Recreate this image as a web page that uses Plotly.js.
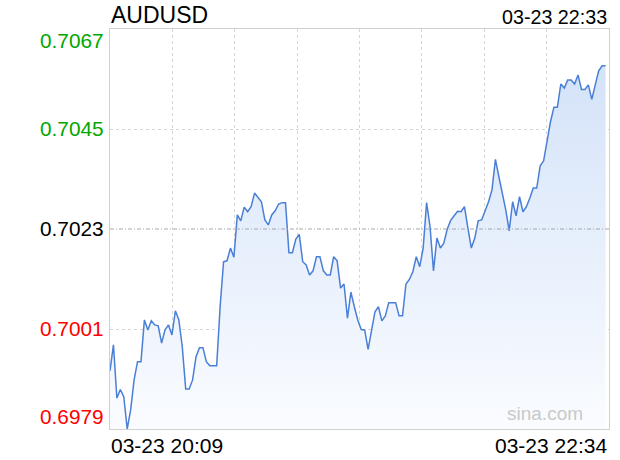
<!DOCTYPE html>
<html>
<head>
<meta charset="utf-8">
<script src="https://cdn.plot.ly/plotly-3.0.1.min.js"></script>
<style>
  html, body { margin: 0; padding: 0; background: #fff; }
  #chart { width: 620px; height: 460px; }
</style>
</head>
<body>
<div id="chart"></div>
<script>
// ---- data ----
const symbol = 'AUDUSD';
const headerTime = '03-23 22:33';
const tradeDate = '2018-03-23';
const startTime = '20:09';
const endTime = '22:34';
const axisStartLabel = '03-23 20:09';
const axisEndLabel = '03-23 22:34';
const watermark = 'sina.com';

// one price per minute, starting at 20:09
const prices = [
  0.69918, 0.69975, 0.69858, 0.69877, 0.69861, 0.69790, 0.69832, 0.69898, 0.69938, 0.69938,
  0.70030, 0.70008, 0.70028, 0.70019, 0.70017, 0.69979, 0.70008, 0.70019, 0.69997, 0.70050,
  0.70030, 0.69971, 0.69878, 0.69878, 0.69898, 0.69949, 0.69969, 0.69969, 0.69938, 0.69929,
  0.69929, 0.69929, 0.70059, 0.70158, 0.70160, 0.70188, 0.70168, 0.70261, 0.70248, 0.70278,
  0.70268, 0.70279, 0.70309, 0.70300, 0.70290, 0.70250, 0.70239, 0.70261, 0.70270, 0.70285,
  0.70288, 0.70288, 0.70178, 0.70178, 0.70208, 0.70218, 0.70158, 0.70151, 0.70129, 0.70138,
  0.70169, 0.70169, 0.70138, 0.70129, 0.70129, 0.70169, 0.70160, 0.70100, 0.70109, 0.70034,
  0.70091, 0.70059, 0.70030, 0.70009, 0.70008, 0.69965, 0.70008, 0.70048, 0.70059, 0.70028,
  0.70039, 0.70068, 0.70068, 0.70068, 0.70039, 0.70039, 0.70109, 0.70119, 0.70136, 0.70169,
  0.70147, 0.70188, 0.70288, 0.70235, 0.70138, 0.70210, 0.70188, 0.70199, 0.70230, 0.70249,
  0.70259, 0.70269, 0.70268, 0.70279, 0.70232, 0.70188, 0.70210, 0.70248, 0.70250, 0.70268,
  0.70290, 0.70316, 0.70383, 0.70345, 0.70310, 0.70272, 0.70226, 0.70290, 0.70259, 0.70301,
  0.70268, 0.70279, 0.70298, 0.70320, 0.70320, 0.70369, 0.70380, 0.70426, 0.70466, 0.70498,
  0.70498, 0.70549, 0.70540, 0.70558, 0.70558, 0.70549, 0.70569, 0.70537, 0.70537, 0.70547,
  0.70515, 0.70547, 0.70578, 0.70589, 0.70589
];

const yTicks = [0.6979, 0.7001, 0.7023, 0.7045, 0.7067];
const yTickText = ['0.6979', '0.7001', '0.7023', '0.7045', '0.7067'];
const prevClose = 0.7023;

// ---- build minute timestamps (categories) ----
function toMin(t) { const p = t.split(':'); return (+p[0]) * 60 + (+p[1]); }
function fmt(m) {
  const h = Math.floor(m / 60), mm = m % 60;
  return tradeDate + ' ' + String(h).padStart(2, '0') + ':' + String(mm).padStart(2, '0');
}
const t0 = toMin(startTime);
const times = prices.map((_, i) => fmt(t0 + i));
const xStart = fmt(t0);
const xEnd = fmt(toMin(endTime));
const gridStep = (toMin(endTime) - t0) / 8 * 60000;

const FONT = 'Liberation Sans, Arial, Helvetica, sans-serif';
const GREEN = '#00a800', RED = '#ff0000', BLACK = '#000000';

const trace = {
  x: times,
  y: prices,
  type: 'scatter',
  mode: 'lines',
  line: { color: '#4a7fd6', width: 1.5 },
  fill: 'tozeroy',
  fillgradient: {
    type: 'vertical',
    start: yTicks[0],
    stop: yTicks[yTicks.length - 1],
    colorscale: [[0, 'rgb(250,252,255)'], [1, 'rgb(208,224,248)']]
  },
  hoverinfo: 'skip'
};

const annotations = [];
yTicks.forEach((v, i) => {
  const color = v > prevClose ? GREEN : (v < prevClose ? RED : BLACK);
  let yanchor = 'middle';
  if (i === yTicks.length - 1) yanchor = 'top';
  if (i === 0) yanchor = 'bottom';
  annotations.push({
    xref: 'paper', yref: 'y', x: 0, y: v, xanchor: 'right', yanchor: yanchor,
    xshift: -4, yshift: (yanchor === 'middle' ? 1 : (yanchor === 'top' ? 2 : -1)),
    text: yTickText[i], showarrow: false,
    font: { family: FONT, size: 20.8, color: color }
  });
});
annotations.push({
  xref: 'paper', yref: 'paper', x: 0, y: 1.034, xanchor: 'left', yanchor: 'middle',
  xshift: -1, text: symbol, showarrow: false, font: { family: FONT, size: 23, color: '#000' }
});
annotations.push({
  xref: 'paper', yref: 'paper', x: 1, y: 1.03, xanchor: 'right', yanchor: 'middle',
  text: headerTime, showarrow: false, font: { family: FONT, size: 19.7, color: '#000' }
});
annotations.push({
  xref: 'paper', yref: 'paper', x: 0, y: -0.041, xanchor: 'left', yanchor: 'middle',
  xshift: -1, text: axisStartLabel, showarrow: false, font: { family: FONT, size: 21, color: '#000' }
});
annotations.push({
  xref: 'paper', yref: 'paper', x: 1, y: -0.041, xanchor: 'right', yanchor: 'middle',
  text: axisEndLabel, showarrow: false, font: { family: FONT, size: 21, color: '#000' }
});
annotations.push({
  xref: 'paper', yref: 'paper', x: 0.872, y: 0.04, xanchor: 'center', yanchor: 'middle',
  text: watermark, showarrow: false, font: { family: FONT, size: 19, color: '#c9c9c9' }
});

const layout = {
  width: 620, height: 460,
  margin: { l: 110, r: 11, t: 29, b: 31, pad: 0 },
  paper_bgcolor: '#ffffff', plot_bgcolor: '#ffffff',
  showlegend: false,
  xaxis: {
    type: 'date', range: [xStart, xEnd],
    tick0: xStart, dtick: gridStep, tickmode: 'linear',
    showticklabels: false, ticks: '',
    showgrid: true, gridcolor: '#d6d6d6', griddash: 'dot', gridwidth: 1,
    showline: true, linecolor: '#d0d0d0', linewidth: 1, mirror: true,
    zeroline: false, fixedrange: true
  },
  yaxis: {
    range: [yTicks[0], yTicks[yTicks.length - 1]],
    tickmode: 'array', tickvals: yTicks.filter(v => v !== prevClose),
    showticklabels: false, ticks: '',
    showgrid: true, gridcolor: '#d6d6d6', griddash: 'dot', gridwidth: 1,
    showline: true, linecolor: '#d0d0d0', linewidth: 1, mirror: true,
    zeroline: false, fixedrange: true
  },
  shapes: [{
    type: 'line', xref: 'paper', yref: 'y', x0: 0, x1: 1, y0: prevClose, y1: prevClose,
    line: { color: '#a8a8a8', width: 1, dash: '4px,2px,1px,2px' }, layer: 'above'
  }],
  annotations: annotations
};

Plotly.newPlot('chart', [trace], layout, { displayModeBar: false, staticPlot: true });
</script>
</body>
</html>
